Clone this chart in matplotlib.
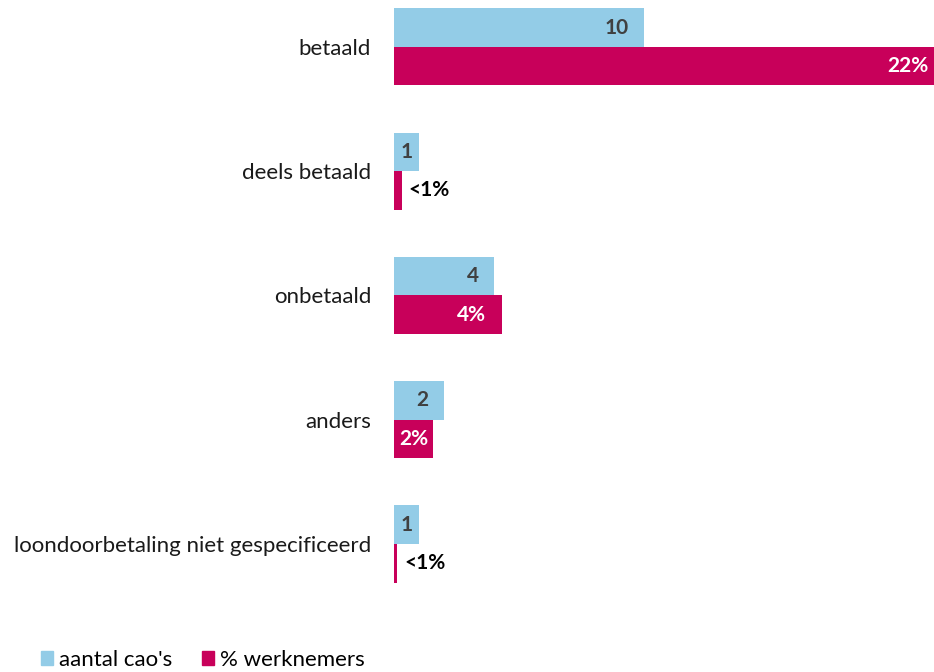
import matplotlib
matplotlib.use("Agg")
import matplotlib.pyplot as plt
from matplotlib.patches import Patch

categories = ["betaald", "deels betaald", "onbetaald", "anders",
              "loondoorbetaling niet gespecificeerd"]
aantal_caos = [10, 1, 4, 2, 1]
pct_werknemers = [22.0, 0.3, 4.3, 1.56, 0.12]

blue = "#93CCE7"
red = "#C8005A"
font = "Lato"
cat_size = 16
val_size = 15

fig = plt.figure(figsize=(9.34, 6.72), dpi=100)
ax = fig.add_axes([394 / 934, 66 / 672, 540 / 934, 606 / 672])

h = 0.31
ypos = list(range(len(categories)))
ax.barh([y - h / 2 for y in ypos], aantal_caos, height=h, color=blue,
        label="aantal cao's")
ax.barh([y + h / 2 for y in ypos], pct_werknemers, height=h, color=red,
        label="% werknemers")

ax.set_xlim(0, 21.6)
ax.set_ylim(4.499, -0.378)
for s in ax.spines.values():
    s.set_visible(False)
ax.set_xticks([])
ax.set_yticks(ypos)
ax.set_yticklabels(categories, fontsize=cat_size, family=font, color="#1a1a1a")
ax.tick_params(axis="y", length=0, pad=16.5)

fig.canvas.draw()
renderer = fig.canvas.get_renderer()
px_per_unit = ax.transData.transform((1, 0))[0] - ax.transData.transform((0, 0))[0]
pad_px = 15.5


def label(val, y, text, color, small_outside=False):
    if small_outside:
        ax.annotate(text, (val, y), xytext=(5, 0), textcoords="offset points",
                    ha="left", va="center", fontsize=val_size, fontweight="bold",
                    family=font, color="black")
        return
    t = ax.text(0, 0, text, fontsize=val_size, fontweight="bold", family=font)
    w = t.get_window_extent(renderer).width
    t.remove()
    bar_px = val * px_per_unit
    if bar_px < w + 2 * pad_px:
        ax.text(val / 2, y, text, ha="center", va="center", fontsize=val_size,
                fontweight="bold", family=font, color=color)
    else:
        ax.annotate(text, (val, y), xytext=(-pad_px * 72 / 100, 0),
                    textcoords="offset points", ha="right", va="center",
                    fontsize=val_size, fontweight="bold", family=font,
                    color=color, annotation_clip=False)


for y, v in zip(ypos, aantal_caos):
    label(v, y - h / 2, f"{v}", "#404040")
for y, v in zip(ypos, pct_werknemers):
    if v < 1:
        label(v, y + h / 2, "<1%", "black", small_outside=True)
    else:
        label(v, y + h / 2, f"{v:.0f}%", "white")

handles = [Patch(color=blue, label="aantal cao's"),
           Patch(color=red, label="% werknemers")]
fig.legend(handles=handles, loc="center left", bbox_to_anchor=(0.022, 12 / 672),
           ncol=2, frameon=False, handlelength=0.55, handleheight=0.55,
           handletextpad=0.3, columnspacing=1.3,
           prop={"family": font, "size": cat_size})

fig.savefig("out.png", dpi=100)
